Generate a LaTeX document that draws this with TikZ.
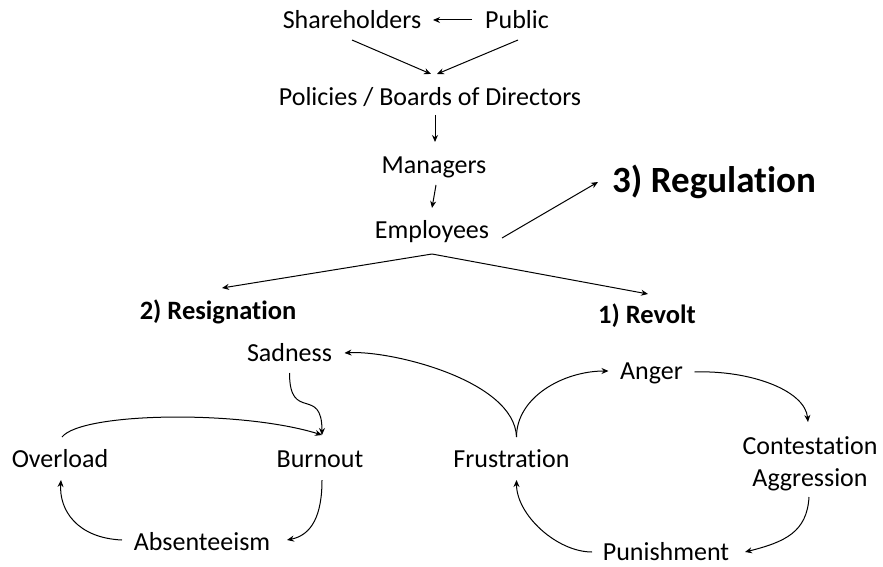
\documentclass[tikz,border=0pt]{standalone}
\usepackage{fontspec}
\setmainfont{Carlito}[Ligatures=CommonOff]
\usetikzlibrary{arrows.meta}
\begin{document}
\begin{tikzpicture}[x=1pt,y=-1pt,
  lbl/.style={font=\fontsize{26}{32}\selectfont, inner sep=0pt, anchor=base},
  blbl/.style={font=\bfseries\fontsize{26.5}{32}\selectfont, inner sep=0pt, anchor=base},
  arr/.style={-{Stealth[length=7pt,width=6pt]}, line width=1pt}]
\useasboundingbox (0,0) rectangle (883,567);
\node[lbl] (sh) at (352,29) {Shareholders};
\node[lbl] (pu) at (517,29) {Public};
\node[lbl] (po) at (430,106) {Policies / Boards of Directors};
\node[lbl] (ma) at (434,173) {Managers};
\node[lbl] (em) at (432,238) {Employees};
\node[blbl, font=\bfseries\fontsize{37}{40}\selectfont] (re) at (714,192) {3) Regulation};
\node[blbl] (rs) at (218,319) {2) Resignation};
\node[blbl] (rv) at (647,323) {1) Revolt};
\node[lbl] (sa) at (289.5,361) {Sadness};
\node[lbl] (an) at (651.5,379) {Anger};
\node[lbl] (fr) at (511.5,467) {Frustration};
\node[lbl, anchor=center, align=center] (co) at (810,464) {Contestation\\Aggression};
\node[lbl] (ov) at (60,467) {Overload};
\node[lbl] (bu) at (320,467) {Burnout};
\node[lbl] (ab) at (202,550) {Absenteeism};
\node[lbl] (pn) at (666,560) {Punishment};

\draw[arr] ([shift={(-45,-9)}]pu.base) -- ([shift={(81,-9)}]sh.base);
\draw[arr] ([shift={(0,11)}]sh.base) -- ([shift={(1,-32)}]po.base);
\draw[arr] ([shift={(1,11)}]pu.base) -- ([shift={(7,-32)}]po.base);
\draw[arr] ([shift={(5,9)}]po.base) -- ([shift={(1,-31)}]ma.base);
\draw[arr] ([shift={(2,12)}]ma.base) -- ([shift={(0,-30)}]em.base);
\draw[arr] ([shift={(70,0)}]em.base) -- ([shift={(-116,-10)}]re.base);
\draw[arr] ([shift={(0,16)}]em.base) -- ([shift={(4,-31)}]rs.base);
\draw[arr] ([shift={(0,16)}]em.base) -- ([shift={(1,-29)}]rv.base);

\draw[arr] ([shift={(5,-30)}]fr.base) .. controls +(-2,-57) and +(45,-3) .. ([shift={(55,-8)}]sa.base);
\draw[arr] ([shift={(5,-30)}]fr.base) .. controls +(0,-40) and +(-45,0) .. ([shift={(-43,-8)}]an.base);
\draw[arr] ([shift={(43,-7)}]an.base) .. controls +(55,-2) and +(-3,-32) .. ([shift={(-2,-42)}]co.center);
\draw[arr] ([shift={(-1,33)}]co.center) .. controls +(-2,35) and +(40,-10) .. ([shift={(79,-8)}]pn.base);
\draw[arr] ([shift={(-74,-8)}]pn.base) .. controls +(-35,0) and +(0,35) .. ([shift={(5,13)}]fr.base);

\draw[arr] ([shift={(0,12)}]sa.base) .. controls +(0,50) and +(0,-50) .. ([shift={(2,-32)}]bu.base);
\draw[arr] ([shift={(2,-30)}]ov.base) .. controls +(20,-25) and +(-80,-25) .. ([shift={(2,-32)}]bu.base);
\draw[arr] ([shift={(2,13)}]bu.base) .. controls +(0,35) and +(25,-5) .. ([shift={(85,-10)}]ab.base);
\draw[arr] ([shift={(-80,-10)}]ab.base) .. controls +(-45,-2) and +(-2,30) .. ([shift={(1,13)}]ov.base);
\end{tikzpicture}
\end{document}
